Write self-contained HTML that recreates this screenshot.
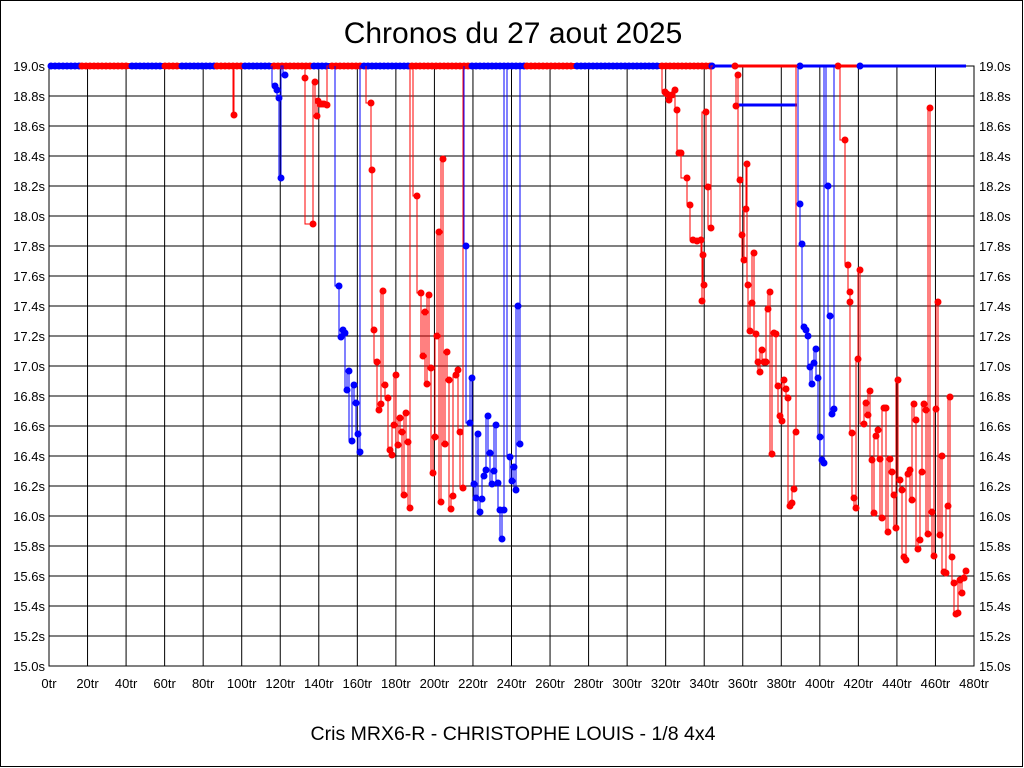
<!DOCTYPE html><html><head><meta charset="utf-8"><style>
body{margin:0;background:#fff}
svg{display:block}
text{font-family:"Liberation Sans",sans-serif;font-size:13px;fill:#000}
</style></head><body>
<svg id="s" width="1024" height="768" xmlns="http://www.w3.org/2000/svg">
<rect x="0.5" y="0.5" width="1022" height="766" fill="#fff" stroke="#000"/>
<text x="513" y="43" text-anchor="middle" style="font-size:30px">Chronos du 27 aout 2025</text>
<text x="513" y="740" text-anchor="middle" style="font-size:19.5px">Cris MRX6-R - CHRISTOPHE LOUIS - 1/8 4x4</text>
<g id="g"></g>
</svg>
<script>
(function(){
var g=document.getElementById('g'),h='';
var L=49,R=974,T=66,B=666;
for(var i=0;i<=24;i++){var x=L+(R-L)*i/24;h+='<line x1="'+x+'" y1="'+T+'" x2="'+x+'" y2="'+B+'" stroke="#000"/>';h+='<text x="'+x+'" y="'+(B+22)+'" text-anchor="middle">'+(i*20)+'tr</text>';}
for(var j=0;j<=20;j++){var y=B-(B-T)*j/20,v=(15+j*0.2).toFixed(1)+'s';h+='<line x1="'+L+'" y1="'+y+'" x2="'+R+'" y2="'+y+'" stroke="#000"/>';h+='<text x="'+(L-4)+'" y="'+(y+5)+'" text-anchor="end">'+v+'</text><text x="'+(R+5)+'" y="'+(y+5)+'">'+v+'</text>';}
h+='<rect x="'+L+'" y="'+T+'" width="'+(R-L)+'" height="'+(B-T)+'" fill="none" stroke="#000"/>';
var tops=[[49,80,'b'],[80,130,'r'],[130,163,'b'],[163,180,'r'],[180,215,'b'],[215,243,'r'],[243,272,'b'],[272,312,'r'],[312,330,'b'],[330,362,'r'],[362,410,'b'],[410,470,'r'],[470,525,'b'],[525,575,'r'],[575,660,'b'],[660,712,'r'],[712,735,'b'],[735,800,'r'],[800,838,'b'],[838,860,'r'],[860,966,'b']];
function c(k){return k=='b'?'#00f':'#f00'}
tops.forEach(function(t){var dense=t[0]<680;h+='<line x1="'+t[0]+'" y1="66" x2="'+t[1]+'" y2="66" stroke="'+c(t[2])+'" stroke-width="'+(dense?6:3)+'"/>';
 if(dense){for(var x=t[0]+2;x<t[1];x+=4)h+='<circle cx="'+x+'" cy="66" r="3.5" fill="'+c(t[2])+'"/>';}
 else{h+='<circle cx="'+t[0]+'" cy="66" r="3.5" fill="'+c(t[2])+'"/>';}});
h+='<line x1="735" y1="105" x2="797" y2="105" stroke="#00f" stroke-width="3"/>';
var red=[[[230,66],[233,66],[234,115],[236,66]],
[[305,66],[305,78],[313,224],[315,82],[317,116],[318,101],[320,104],[322,104],[324,104],[327,105],[328,66]],
[[366,66],[371,103],[372,170],[374,330],[377,362],[379,410],[381,404],[383,291],[385,385],[388,398],[390,450],[392,455],[394,425],[396,375],[398,445],[400,418],[402,432],[404,495],[406,413],[408,442],[410,508],[413,66],[417,196],[421,293],[423,356],[425,312],[427,384],[429,295],[431,368],[433,473],[435,437],[437,336],[439,232],[441,502],[443,159],[445,444],[447,352],[449,380],[451,509],[453,496],[456,375],[458,370],[460,432],[463,488],[465,66]],
[[662,66],[665,92],[667,94],[669,100],[672,95],[675,90],[677,110],[679,153],[681,153],[687,178],[690,205],[693,240],[697,241],[701,240],[703,255],[704,285],[702,301],[706,112],[708,187],[711,228],[713,66]],
[[736,106],[738,75],[740,180],[742,235],[744,260],[746,209],[747,164],[748,285],[750,331],[752,303],[754,253],[756,334],[758,362],[760,372],[762,350],[764,362],[766,362],[768,309],[770,292],[772,454],[774,333],[776,334],[778,386],[780,416],[782,421],[784,380],[786,389],[788,398],[790,506],[792,503],[794,489],[796,432],[798,66]],
[[840,66],[845,140],[848,265],[850,292],[850,302],[852,433],[854,498],[856,508],[858,359],[860,270],[864,424],[866,403],[868,415],[870,391],[872,460],[874,513],[876,436],[878,430],[880,459],[882,518],[884,408],[886,408],[888,532],[890,459],[892,472],[894,495],[896,528],[898,380],[900,480],[902,490],[904,557],[906,560],[908,474],[910,470],[912,500],[914,404],[916,420],[918,549],[920,540],[922,472],[924,404],[926,410],[928,534],[930,108],[932,512],[934,556],[936,409],[938,302],[940,535],[942,456],[944,572],[946,573],[948,506],[950,397],[952,557],[954,583],[956,614],[958,613],[960,580],[962,593],[964,578],[966,571]]];
var blue=[[[272,66],[275,86],[277,90],[279,98],[281,178],[283,66],[285,75]],
[[335,66],[339,286],[341,337],[343,330],[345,333],[347,390],[349,371],[352,441],[354,385],[356,403],[358,434],[360,452],[362,66]],
[[464,66],[466,246],[470,423],[472,378],[474,484],[476,498],[478,434],[480,512],[482,499],[484,476],[486,470],[488,416],[490,453],[492,484],[494,471],[496,425],[498,483],[500,510],[502,539],[504,510],[507,66],[510,457],[512,481],[514,467],[516,490],[518,306],[520,444],[522,66]],
[[798,66],[800,204],[802,244],[804,327],[806,330],[808,336],[810,367],[812,384],[814,363],[816,349],[818,378],[820,437],[822,460],[824,463],[826,66],[828,186],[830,316],[832,414],[834,409],[836,66]]];
function draw(arr,col){arr.forEach(function(p){var d='M'+p[0][0]+' '+p[0][1];for(var k=1;k<p.length;k++){d+=' V'+p[k][1]+' H'+p[k][0];}
h+='<path d="'+d+'" fill="none" stroke="'+col+'" stroke-width="1"/>';
p.forEach(function(q){if(q[1]>67)h+='<circle cx="'+q[0]+'" cy="'+q[1]+'" r="3.5" fill="'+col+'"/>';});});}
draw(red,'#f00');draw(blue,'#00f');
g.innerHTML=h;
})();
</script>
</body></html>
